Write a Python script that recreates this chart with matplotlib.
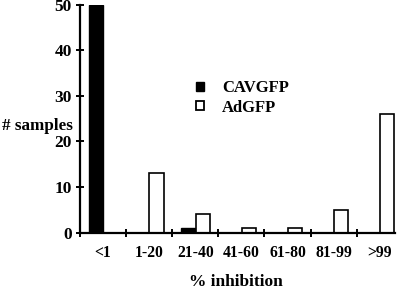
import matplotlib
matplotlib.use("Agg")
import matplotlib.pyplot as plt
import numpy as np
from matplotlib.patches import Patch

categories = ["<1", "1-20", "21-40", "41-60", "61-80", "81-99", ">99"]
cavgfp = [50, 0, 1, 0, 0, 0, 0]
adgfp = [0, 13, 4, 1, 1, 5, 26]
yticks = [0, 10, 20, 30, 40, 50]

plt.rcParams['font.family'] = ['Liberation Serif', 'DejaVu Serif']
plt.rcParams['font.weight'] = 'bold'

fig = plt.figure(figsize=(4.0, 2.93), dpi=100)
ax = fig.add_axes([0.2, 0.206, 0.7875, 0.778])

x = np.arange(len(categories))
w = 0.31
ax.bar(x - 0.005, cavgfp, width=-w, align='edge', color='black', edgecolor='black', linewidth=1.0, label='CAVGFP')
ax.bar(x + 0.005, adgfp, width=w, align='edge', color='white', edgecolor='black', linewidth=1.2, label='AdGFP')

ax.set_xlim(-0.5, 6.33)
ax.set_ylim(0, 50)
for s in ['top', 'right']:
    ax.spines[s].set_visible(False)
for s in ['left', 'bottom']:
    ax.spines[s].set_linewidth(1.6)

ax.set_yticks(yticks)
ax.set_yticklabels([str(v) for v in yticks], fontsize=12.5, fontweight='bold')
ax.tick_params(axis='y', direction='inout', length=6, width=1.4, pad=3)

ax.set_xticks(x)
ax.set_xticklabels(categories, fontsize=11.3, fontweight='bold')
ax.set_xticks(np.arange(-0.5, 6.0, 1.0), minor=True)
ax.tick_params(axis='x', which='major', length=0, pad=9)
ax.tick_params(axis='x', which='minor', direction='inout', length=6, width=1.4)

fig.text(37/400, 1 - 126/293, "# samples", ha='center', va='center', fontsize=12.3, fontweight='bold')
fig.text(236/400, 1 - 282/293, "% inhibition", ha='center', va='center', fontsize=12.5, fontweight='bold')

handles = [Patch(facecolor='black', edgecolor='black', linewidth=1.0),
           Patch(facecolor='white', edgecolor='black', linewidth=1.3)]
ax.legend(handles, ['CAVGFP', 'AdGFP'], loc='upper left', bbox_to_anchor=(196/400, 1 - 80/293),
          bbox_transform=fig.transFigure, frameon=False, handlelength=0.45, handleheight=0.45,
          handletextpad=1.1, labelspacing=0.22, borderaxespad=0, borderpad=0,
          prop={'size': 12, 'weight': 'bold', 'family': 'Liberation Serif'})

fig.savefig("out.png", dpi=100)
